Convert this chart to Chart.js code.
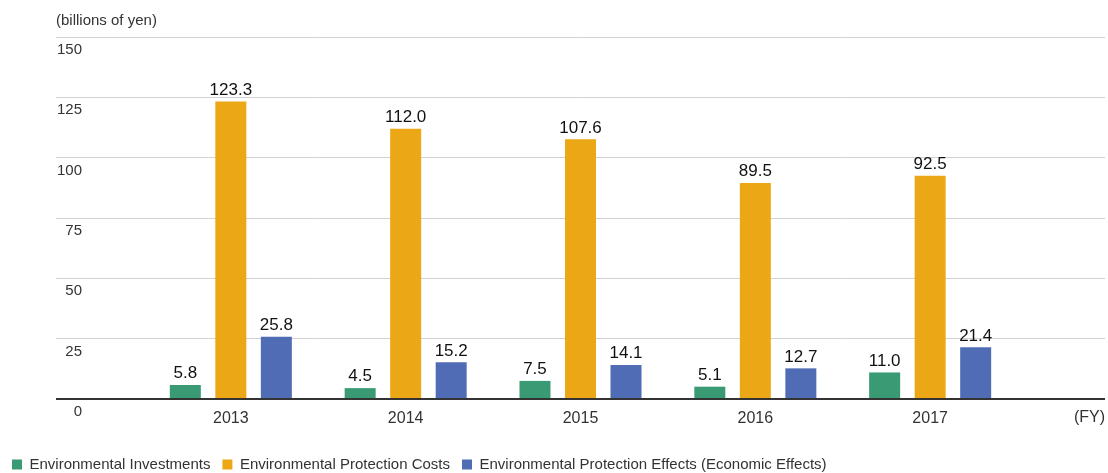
<!DOCTYPE html>
<html>
<head>
<meta charset="utf-8">
<script src="https://cdn.jsdelivr.net/npm/chart.js@4"></script>
<style>
  html, body { margin: 0; padding: 0; background: #fff; }
  #wrap { width: 1108px; height: 473px; position: relative; }
</style>
</head>
<body>
<div id="wrap"><canvas id="c"></canvas></div>
<script>
const categories = ['', '2013', '2014', '2015', '2016', '2017', ''];
const investments = [null, 5.8, 4.5, 7.5, 5.1, 11.0, null];
const protectionCosts = [null, 123.3, 112.0, 107.6, 89.5, 92.5, null];
const protectionEffects = [null, 25.8, 15.2, 14.1, 12.7, 21.4, null];
const yTicks = [0, 25, 50, 75, 100, 125, 150];
const seriesNames = ['Environmental Investments', 'Environmental Protection Costs', 'Environmental Protection Effects (Economic Effects)'];
const unitLabel = '(billions of yen)';
const axisUnit = '(FY)';

const FONT = '"Liberation Sans", Arial, sans-serif';

const extras = {
  id: 'extras',
  afterDatasetsDraw(chart) {
    const ctx = chart.ctx;
    const ca = chart.chartArea;
    const y = chart.scales.y;
    ctx.save();
    // y tick labels below gridlines
    ctx.font = '15px ' + FONT;
    ctx.fillStyle = '#333';
    ctx.textAlign = 'right';
    ctx.textBaseline = 'middle';
    yTicks.forEach(v => {
      ctx.fillText(String(v), ca.left + 26, y.getPixelForValue(v) + 13);
    });
    // unit label
    ctx.textAlign = 'left';
    ctx.fillText(unitLabel, ca.left, 21);
    // FY
    ctx.font = '16px ' + FONT;
    ctx.textAlign = 'right';
    ctx.fillText(axisUnit, ca.right, 418);
    // value labels
    ctx.font = '17px ' + FONT;
    ctx.fillStyle = '#111';
    ctx.textAlign = 'center';
    ctx.textBaseline = 'bottom';
    chart.data.datasets.forEach((ds, di) => {
      const meta = chart.getDatasetMeta(di);
      meta.data.forEach((bar, i) => {
        const v = ds.data[i];
        if (v === null || v === undefined) return;
        ctx.fillText(v.toFixed(1), bar.x, bar.y - 3);
      });
    });
    ctx.restore();
  }
};

new Chart(document.getElementById('c'), {
  type: 'bar',
  data: {
    labels: categories,
    datasets: [
      { label: seriesNames[0], data: investments, backgroundColor: '#3a9a74', borderWidth: 0 },
      { label: seriesNames[1], data: protectionCosts, backgroundColor: '#eca716', borderWidth: 0 },
      { label: seriesNames[2], data: protectionEffects, backgroundColor: '#4f6cb4', borderWidth: 0 }
    ]
  },
  options: {
    responsive: true,
    maintainAspectRatio: false,
    animation: false,
    categoryPercentage: 0.781,
    barPercentage: 0.681,
    layout: { padding: { top: 37, right: 3, bottom: -9, left: 0 } },
    plugins: {
      tooltip: { enabled: false },
      legend: {
        position: 'bottom',
        align: 'start',
        labels: {
          boxWidth: 10,
          boxHeight: 10,
          padding: 12,
          color: '#333',
          font: { family: FONT, size: 15 }
        }
      }
    },
    scales: {
      x: {
        offset: false,
        grid: { display: true, drawOnChartArea: false, drawTicks: true, tickLength: 7, tickColor: 'rgba(0,0,0,0)' },
        border: { display: false },
        ticks: {
          autoSkip: false,
          maxRotation: 0,
          padding: 3,
          color: '#333',
          font: { family: FONT, size: 16 }
        },
        afterFit(scale) { scale.height = 46; }
      },
      y: {
        min: 0,
        max: 150,
        ticks: { stepSize: 25, display: false },
        grid: {
          drawTicks: false,
          color: c => c.tick && c.tick.value === 0 ? '#333' : '#d2d2d2',
          lineWidth: c => c.tick && c.tick.value === 0 ? 2 : 1
        },
        border: { display: false },
        afterFit(scale) { scale.width = 56; }
      }
    }
  },
  plugins: [extras]
});
</script>
</body>
</html>
